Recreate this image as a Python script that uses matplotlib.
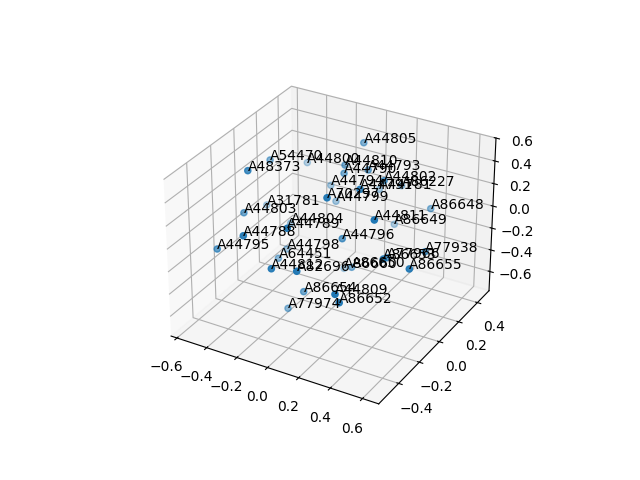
import matplotlib
matplotlib.use('Agg')
import matplotlib.pyplot as plt

names=['A44805','A54470','A48373','A44800','A44810','A44793','A44790','A44794','A44791','A44781','A44802','A86227','A70297','A44799','A31781','A44803','A86648','A44811','A86649','A44804','A44789','A44788','A44795','A44796','A44798','A64451','A44812','A82696','A86654','A44809','A86652','A77974','A86660','A86650','A77966','A86653','A77938','A86655']
x=[-0.021, -0.46, -0.315, -0.487, -0.049, 0.072, -0.042, -0.296, 0.302, -0.027, 0.257, 0.121, 0.212, -0.211, -0.619, -0.443, 0.374, 0.493, 0.077, -0.409, 0.075, -0.153, -0.452, 0.136, -0.391, -0.313, 0.019, 0.178, -0.04, 0.411, 0.414, -0.193, -0.14, 0.097, 0.377, 0.477, 0.553, 0.666]
y=[0.336, 0.078, -0.307, 0.46, 0.197, 0.242, 0.178, 0.418, -0.179, 0.506, 0.116, 0.506, -0.345, 0.346, 0.251, -0.184, 0.409, -0.333, 0.506, 0.189, -0.5, -0.566, -0.407, -0.097, 0.125, -0.058, -0.564, -0.564, -0.204, -0.561, -0.528, -0.139, 0.324, 0.051, -0.032, -0.22, 0.068, -0.266]
z=[0.445, 0.328, 0.58, 0.006, 0.342, 0.309, 0.286, -0.101, 0.552, -0.106, 0.38, -0.017, 0.577, -0.16, -0.274, 0.07, -0.054, 0.49, -0.391, -0.313, 0.393, 0.294, -0.072, -0.004, -0.493, -0.393, 0.08, 0.124, -0.459, 0.022, -0.078, -0.735, -0.742, -0.401, -0.13, 0.058, -0.09, 0.089]

fig=plt.figure(figsize=(6.4,4.8))
ax=fig.add_subplot(projection='3d')
ax.scatter(x,y,z)
for i in range(len(names)):
    ax.text(x[i],y[i],z[i],names[i])
ax.set_xlim(-0.64,0.70)
ax.set_ylim(-0.587,0.527)
ax.set_zlim(-0.78,0.60)
fig.savefig('out.png',dpi=100)
